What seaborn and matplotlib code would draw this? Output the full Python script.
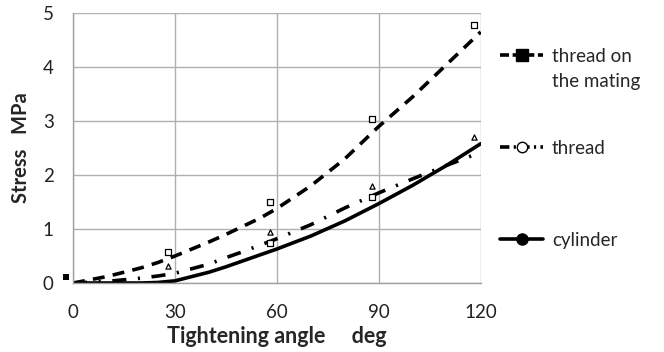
import matplotlib
matplotlib.use("Agg")
import matplotlib.pyplot as plt
import seaborn as sns
from matplotlib.lines import Line2D

# ---- data ----
curve_x = [0, 10, 20, 25, 30, 40, 45, 50, 55, 60, 70, 80, 90, 100, 110, 120]
mating_curve = [0.0, 0.12, 0.28, 0.38, 0.5, 0.76, 0.9, 1.05, 1.2, 1.38, 1.8, 2.3, 2.9, 3.45, 4.05, 4.65]
thread_curve = [0.0, 0.03, 0.09, 0.13, 0.18, 0.35, 0.47, 0.58, 0.7, 0.82, 1.08, 1.39, 1.67, 1.93, 2.18, 2.42]
cylinder_curve = [0.0, 0.0, 0.0, 0.01, 0.04, 0.2, 0.3, 0.41, 0.52, 0.63, 0.87, 1.15, 1.47, 1.81, 2.18, 2.58]

mating_pts_x = [28, 58, 88, 118]
mating_pts_y = [0.58, 1.5, 3.03, 4.77]
thread_pts_x = [28, 58, 88, 118]
thread_pts_y = [0.31, 0.94, 1.8, 2.7]
cyl_pts_x = [58, 88]
cyl_pts_y = [0.75, 1.59]
origin_pt_x = [-2]
origin_pt_y = [0.12]

x_ticks = [0, 30, 60, 90, 120]
y_ticks = [0, 1, 2, 3, 4, 5]
legend_labels = ["thread on", "thread", "cylinder"]
legend_extra = "the mating"

sns.set_theme(style="white")
plt.rcParams["font.family"] = ["Lato", "DejaVu Sans"]

fig = plt.figure(figsize=(6.64, 3.52), dpi=100)
ax = fig.add_axes([0.110, 0.196, 0.614, 0.767])

lw = 2.6
sns.lineplot(x=curve_x, y=mating_curve, ax=ax, color="black", lw=lw,
             estimator=None, sort=False)
ax.lines[-1].set_dashes((3.3, 2.3))
sns.lineplot(x=curve_x, y=thread_curve, ax=ax, color="black", lw=lw,
             estimator=None, sort=False)
ax.lines[-1].set_dashes((3.9, 3.2, 0.6, 3.2))
sns.lineplot(x=curve_x, y=cylinder_curve, ax=ax, color="black", lw=lw,
             estimator=None, sort=False)

sns.scatterplot(x=mating_pts_x, y=mating_pts_y, ax=ax, marker="s", s=16,
                facecolor="white", edgecolor="black", linewidth=0.9, zorder=5)
sns.scatterplot(x=thread_pts_x, y=thread_pts_y, ax=ax, marker="^", s=14,
                facecolor="white", edgecolor="black", linewidth=0.9, zorder=5)
sns.scatterplot(x=cyl_pts_x, y=cyl_pts_y, ax=ax, marker="s", s=14,
                facecolor="white", edgecolor="black", linewidth=0.9, zorder=5)
sns.scatterplot(x=origin_pt_x, y=origin_pt_y, ax=ax, marker="s", s=20,
                color="black", linewidth=0, zorder=5)
for c in ax.collections:
    c.set_clip_on(False)

ax.set_xlim(0, 120)
ax.set_ylim(0, 5)
ax.set_xticks(x_ticks)
ax.set_yticks(y_ticks)
ax.grid(True, color="#b0b0b0", lw=1.0)
ax.set_axisbelow(True)
for s in ["top", "right"]:
    ax.spines[s].set_visible(False)
for s in ["left", "bottom"]:
    ax.spines[s].set_color("#a0a0a0")
    ax.spines[s].set_linewidth(1.0)
ax.tick_params(axis="both", direction="out", length=5, width=1.0, color="#a0a0a0",
               labelsize=13.5, labelcolor="#222222")
ax.tick_params(axis="x", pad=10)
ax.tick_params(axis="y", pad=9)
ax.set_xlabel("Tightening angle     deg", fontsize=15.5, fontweight="bold", labelpad=4)
ax.set_ylabel("Stress   MPa", fontsize=14.5, fontweight="bold", labelpad=8)

handles = [
    Line2D([], [], color="black", lw=2.6, marker="s", markersize=9, dashes=(2.5, 1.0)),
    Line2D([], [], color="black", lw=2.6, marker="o", markersize=7.5,
           markerfacecolor="white", markeredgewidth=1.0, dashes=(2.6, 1.2, 0.6, 1.2)),
    Line2D([], [], color="black", lw=2.6, marker="o", markersize=8),
]
leg = fig.legend(handles, legend_labels, loc="upper left", bbox_to_anchor=(0.742, 0.885),
                 frameon=False, fontsize=13.5, handlelength=2.3, handletextpad=0.45,
                 labelspacing=4.0, borderaxespad=0)

# second line of the first legend label, placed just under "thread on"
fig.canvas.draw()
bb = leg.get_texts()[0].get_window_extent()
x0, y0 = fig.transFigure.inverted().transform((bb.x0, bb.y0 - 25))
fig.text(x0, y0, legend_extra, fontsize=13.5, ha="left", va="bottom")

fig.savefig("out.png", dpi=100)
